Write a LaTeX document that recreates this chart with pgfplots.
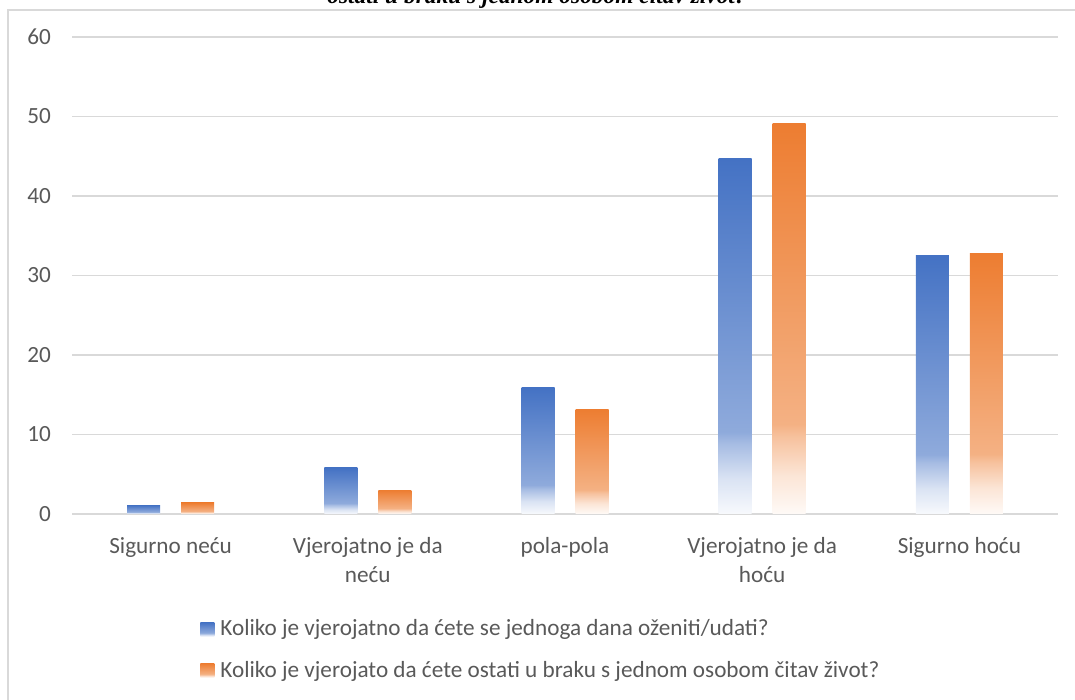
\documentclass[border=0pt]{standalone}
\usepackage{fontspec}
\setmainfont{Carlito}
\newfontfamily\titlefont{Liberation Serif}
\usepackage{pgfplots}
\pgfplotsset{compat=1.18}
\definecolor{xlblue}{HTML}{4472C4}
\definecolor{xlorange}{HTML}{ED7D31}
\definecolor{txtgrey}{HTML}{595959}
\definecolor{gridgrey}{HTML}{D9D9D9}
% bar path maps onto 25bp..75bp of the shading
\pgfdeclareverticalshading{blueshade}{100bp}{color(0bp)=(xlblue!4); color(25bp)=(xlblue!4); color(30bp)=(xlblue!20); color(35bp)=(xlblue!48); color(36.5bp)=(xlblue!60); color(75bp)=(xlblue); color(100bp)=(xlblue)}
\pgfdeclareverticalshading{orangeshade}{100bp}{color(0bp)=(xlorange!4); color(25bp)=(xlorange!4); color(30bp)=(xlorange!20); color(35bp)=(xlorange!48); color(36.5bp)=(xlorange!60); color(75bp)=(xlorange); color(100bp)=(xlorange)}
\pgfplotsset{
  bluebar/.style={draw=none, fill=none, shade, shading=blueshade, bar shift=-13.5pt,
    legend image code/.code={\shade[shading=blueshade] (0pt,-3.5pt) rectangle (7pt,3.5pt);}},
  orangebar/.style={draw=none, fill=none, shade, shading=orangeshade, bar shift=13.5pt,
    legend image code/.code={\shade[shading=orangeshade] (0pt,-3.5pt) rectangle (7pt,3.5pt);}},
}

\begin{document}
\begin{tikzpicture}
\useasboundingbox (0,0) rectangle (537.5pt,350pt);
\clip (0,0) rectangle (537.5pt,350pt);
\draw[gridgrey, line width=0.6pt] (4pt,-10pt) rectangle (560pt,345pt);
\node[font=\titlefont\bfseries\itshape\fontsize{11.7}{14}\selectfont, anchor=base] at (268.5pt,348pt) {ostati u braku s jednom osobom čitav život?};
\begin{axis}[
  at={(36pt,93pt)}, anchor=south west, scale only axis,
  width=493pt, height=238.5pt,
  ybar, bar width=16.5pt,
  xmin=-0.5, xmax=4.5, ymin=0, ymax=60, ytick={0,10,...,60},
  xtick={0,...,4},
  xticklabels={Sigurno neću, {Vjerojatno je da\\neću}, pola-pola, {Vjerojatno je da\\hoću}, Sigurno hoću},
  axis line style={draw=none}, major tick length=0pt,
  ymajorgrids, grid style={gridgrey, line width=0.75pt},
  tick label style={font=\fontsize{11.6}{14.5}\selectfont, text=txtgrey},
  /pgf/number format/assume math mode=true,
  xticklabel style={align=center, yshift=-8pt},
  yticklabel style={xshift=-7pt},
  legend style={at={(axis description cs:0.1298,-0.2851)}, anchor=west, draw=none, fill=none,
    inner sep=0pt, row sep=11pt, column sep=3pt,
    font=\fontsize{11.6}{14}\selectfont, text=txtgrey,
    nodes={inner sep=0pt}},
  legend cell align=left,
]
% each bar is its own plot so that its shading fits that bar alone
\addplot[bluebar] coordinates {(0,1.1)};
\addplot[bluebar, forget plot] coordinates {(1,5.8)};
\addplot[bluebar, forget plot] coordinates {(2,15.85)};
\addplot[bluebar, forget plot] coordinates {(3,44.7)};
\addplot[bluebar, forget plot] coordinates {(4,32.5)};
\addplot[orangebar] coordinates {(0,1.4)};
\addplot[orangebar, forget plot] coordinates {(1,3.0)};
\addplot[orangebar, forget plot] coordinates {(2,13.2)};
\addplot[orangebar, forget plot] coordinates {(3,49.1)};
\addplot[orangebar, forget plot] coordinates {(4,32.8)};
\legend{Koliko je vjerojatno da ćete se jednoga dana oženiti/udati?,
  Koliko je vjerojato da ćete ostati u braku s jednom osobom čitav život?}
\end{axis}
\end{tikzpicture}
\end{document}
